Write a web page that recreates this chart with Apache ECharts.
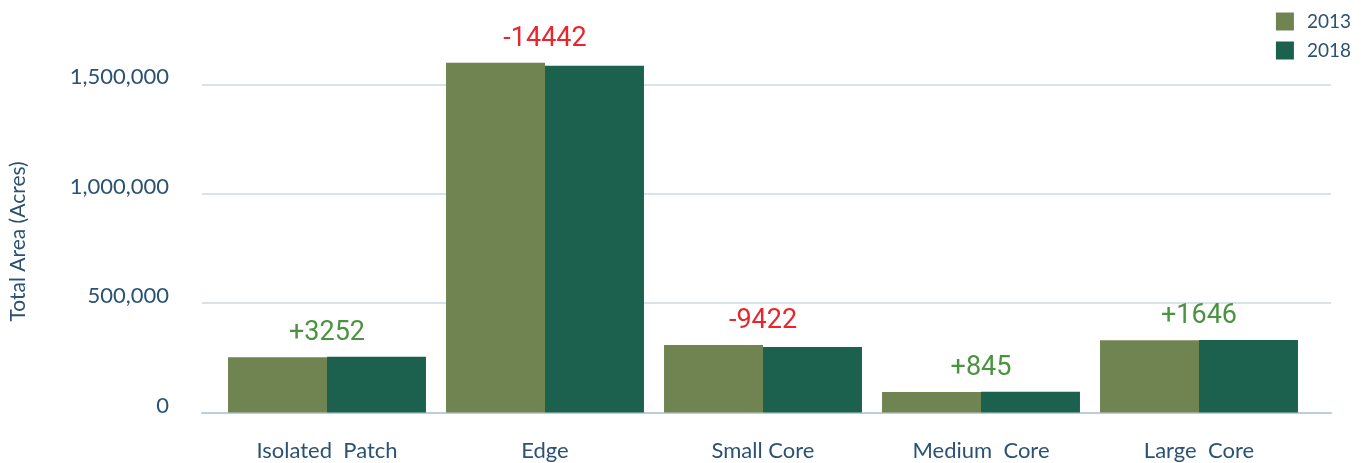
<!DOCTYPE html>
<html>
<head>
<meta charset="utf-8">
<script src="https://cdn.jsdelivr.net/npm/echarts@6/dist/echarts.min.js"></script>
<style>
html,body{margin:0;padding:0;background:#fff;}
#chart{width:1364px;height:463px;}
</style>
</head>
<body>
<div id="chart"></div>
<script>
var categories = ['Isolated  Patch', 'Edge', 'Small Core', 'Medium  Core', 'Large  Core'];
var values2013 = [252000, 1598800, 308800, 93800, 329700];
var values2018 = [254900, 1585000, 299500, 94600, 331400];
var changes = ['+3252', '-14442', '-9422', '+845', '+1646'];
var yTicks = [0, 500000, 1000000, 1500000];

var textColor = '#2b5273';
var gridColor = '#cbdadf';
var c2013 = '#6f8450';
var c2018 = '#1b614d';

var labelTops = values2013.map(function (v, i) { return Math.max(v, values2018[i]); });

var chart = echarts.init(document.getElementById('chart'));
var yMin = yTicks[0], yMax = yTicks[yTicks.length - 1], yInt = yTicks[1] - yTicks[0];

chart.setOption({
  animation: false,
  textStyle: { fontFamily: 'Lato' },
  legend: {
    orient: 'vertical',
    right: 8,
    top: 7,
    itemWidth: 18,
    itemHeight: 18,
    itemGap: 10,
    icon: 'rect',
    textStyle: { color: textColor, fontSize: 19, lineHeight: 18, fontFamily: 'Lato', padding: [0, 0, 0, 8] },
    data: ['2013', '2018']
  },
  grid: [
    { left: 218, right: 56, top: 84.3, bottom: 50.5 },
    { left: 197, right: 33, top: 84.3, bottom: 50.5 }
  ],
  xAxis: [
    {
      type: 'category', gridIndex: 0, data: categories,
      axisLine: { show: false }, axisTick: { show: false },
      axisLabel: { color: textColor, fontSize: 22, margin: 27, fontFamily: 'Lato' }
    },
    {
      type: 'value', gridIndex: 1, min: 0, max: 1,
      axisLine: { show: true, onZero: false, lineStyle: { color: '#bccfd6', width: 2 } },
      axisTick: { show: false }, axisLabel: { show: false }, splitLine: { show: false }
    }
  ],
  yAxis: [
    {
      type: 'value', gridIndex: 0, min: yMin, max: yMax, interval: yInt,
      show: false, splitLine: { show: false }
    },
    {
      type: 'value', gridIndex: 1, min: yMin, max: yMax, interval: yInt,
      name: 'Total Area (Acres)', nameLocation: 'middle', nameGap: 173, nameRotate: 90,
      nameTextStyle: { color: textColor, fontSize: 21, fontFamily: 'Lato', padding: [0, 0, 0, 14] },
      axisLine: { show: false }, axisTick: { show: false },
      axisLabel: {
        color: textColor, fontSize: 22, margin: 33, fontFamily: 'Lato',
        verticalAlign: 'bottom', lineHeight: 14,
        formatter: function (v) { return v.toLocaleString('en-US'); }
      },
      splitLine: { lineStyle: { color: gridColor, width: 1.5 } }
    }
  ],
  series: [
    {
      name: '2013', type: 'bar', xAxisIndex: 0, yAxisIndex: 0,
      data: values2013, itemStyle: { color: c2013 },
      barGap: '0%', barCategoryGap: '9.2%', clip: false
    },
    {
      name: '2018', type: 'bar', xAxisIndex: 0, yAxisIndex: 0,
      data: values2018, itemStyle: { color: c2018 },
      barGap: '0%', barCategoryGap: '9.2%', clip: false
    },
    {
      name: 'change', type: 'scatter', xAxisIndex: 0, yAxisIndex: 0,
      symbolSize: 0, clip: false, silent: true,
      itemStyle: { opacity: 1 },
      data: labelTops.map(function (v, i) {
        var neg = changes[i].charAt(0) === '-';
        return {
          value: v,
          label: { color: neg ? '#e8262b' : '#4a9440' }
        };
      }),
      label: {
        show: true, position: 'top', distance: 10, opacity: 1,
        fontSize: 27, fontFamily: 'Roboto',
        formatter: function (p) { return changes[p.dataIndex]; }
      }
    }
  ]
});
</script>
</body>
</html>
